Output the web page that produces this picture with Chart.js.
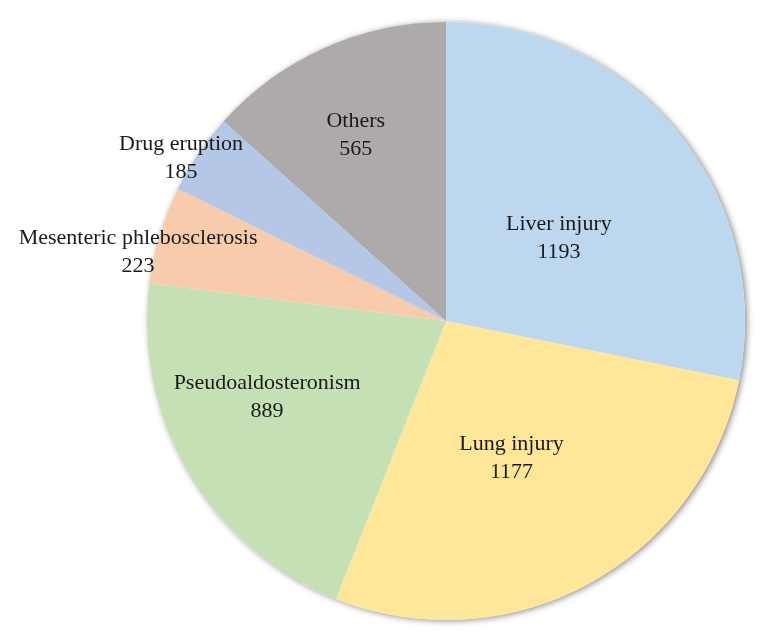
<html>
<head>
  <title>Adverse events</title>
  <style>
    body { margin: 0; background: #fff; }
    #wrap { width: 768px; height: 638px; }
  </style>
</head>
<body>

<div id="wrap">
  <canvas id="pie"></canvas>
</div>

<script src="https://cdn.jsdelivr.net/npm/chart.js@4.4.1/dist/chart.umd.min.js"></script>
<script>

const categories = ['Liver injury', 'Lung injury', 'Pseudoaldosteronism',
                    'Mesenteric phlebosclerosis', 'Drug eruption', 'Others'];
const counts = [1193, 1177, 889, 223, 185, 565];
const colors = ['#BDD7EE', '#FFE699', '#C5E0B4', '#F8CBAD', '#B4C7E7', '#AEAAAA'];

// where each label sits: share of the slice's sweep, share of the radius
const labelSweep = [0.53, 0.53, 0.60, 0.28, 0.34, 0.46];
const labelRadius = [0.468, 0.51, 0.65, 1.055, 1.04, 0.69];

// soft shadow under the whole pie
const pieShadow = {
  id: 'pieShadow',
  beforeDatasetsDraw(chart) {
    const arc = chart.getDatasetMeta(0).data[0];
    if (!arc) return;
    const ctx = chart.ctx;
    ctx.save();
    ctx.shadowColor = 'rgba(0,0,0,0.45)';
    ctx.shadowBlur = 6;
    ctx.shadowOffsetX = 2;
    ctx.shadowOffsetY = 1;
    ctx.fillStyle = '#ffffff';
    ctx.beginPath();
    ctx.arc(arc.x, arc.y, arc.outerRadius, 0, Math.PI * 2);
    ctx.fill();
    ctx.restore();
  }
};

const sliceLabels = {
  id: 'sliceLabels',
  afterDatasetsDraw(chart) {
    const ctx = chart.ctx;
    const meta = chart.getDatasetMeta(0);
    ctx.save();
    ctx.font = '22px "Liberation Serif", "DejaVu Serif", serif';
    ctx.fillStyle = '#1a1a1a';
    ctx.textAlign = 'center';
    ctx.textBaseline = 'middle';
    meta.data.forEach((arc, i) => {
      const a = arc.startAngle + (arc.endAngle - arc.startAngle) * labelSweep[i];
      const r = arc.outerRadius * labelRadius[i];
      const x = arc.x + Math.cos(a) * r;
      const y = arc.y + Math.sin(a) * r;
      ctx.fillText(categories[i], x, y - 14);
      ctx.fillText(String(counts[i]), x, y + 14);
    });
    ctx.restore();
  }
};

new Chart(document.getElementById('pie'), {
  type: 'pie',
  data: {
    labels: categories,
    datasets: [{
      data: counts,
      backgroundColor: colors,
      borderWidth: 0,
    }]
  },
  options: {
    responsive: true,
    maintainAspectRatio: false,
    animation: false,
    layout: { padding: { left: 124, right: 0, top: 22, bottom: 18 } },
    plugins: {
      legend: { display: false },
      tooltip: { enabled: false },
    }
  },
  plugins: [pieShadow, sliceLabels]
});

</script>

</body>
</html>
